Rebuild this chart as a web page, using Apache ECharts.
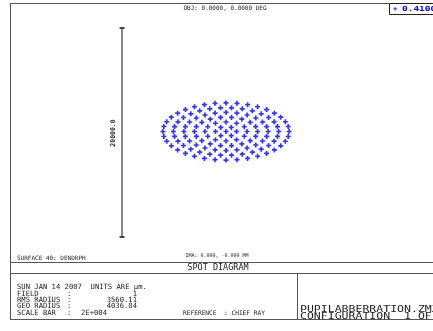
<!DOCTYPE html>
<html>
<head>
<meta charset="utf-8">
<script src="https://cdn.jsdelivr.net/npm/echarts@6/dist/echarts.min.js"></script>
<style>
  html, body { margin: 0; padding: 0; background: #fff; }
  #chart { width: 433px; height: 331px; }
</style>
</head>
<body>
<div id="chart"></div>
<script>
// spot diagram rays (µm from chief ray), one array per pupil ring
const RING_0 = [[0, 0]];
const RING_1 = [[673, 0], [337, 264], [-337, 264], [-673, 0], [-337, -264], [337, -264]];
const RING_2 = [
  [1347, 0], [1167, 305], [674, 528], [0, 610], [-674, 528], [-1167, 305],
  [-1347, 0], [-1167, -305], [-674, -528], [0, -610], [674, -528], [1167, -305]
];
const RING_3 = [
  [2020, 0], [1898, 313], [1547, 588], [1010, 792], [351, 901], [-351, 901],
  [-1010, 792], [-1547, 588], [-1898, 313], [-2020, 0], [-1898, -313], [-1547, -588],
  [-1010, -792], [-351, -901], [351, -901], [1010, -792], [1547, -588], [1898, -313]
];
const RING_4 = [
  [2693, 0], [2601, 316], [2332, 610], [1904, 863], [1347, 1057], [697, 1178],
  [0, 1220], [-697, 1178], [-1347, 1057], [-1904, 863], [-2332, 610], [-2601, 316],
  [-2693, 0], [-2601, -316], [-2332, -610], [-1904, -863], [-1347, -1057], [-697, -1178],
  [0, -1220], [697, -1178], [1347, -1057], [1904, -863], [2332, -610], [2601, -316]
];
const RING_5 = [
  [3367, 0], [3293, 317], [3076, 620], [2724, 896], [2253, 1133], [1684, 1321],
  [1040, 1450], [352, 1517], [-352, 1517], [-1040, 1450], [-1684, 1321], [-2253, 1133],
  [-2724, 896], [-3076, 620], [-3293, 317], [-3367, 0], [-3293, -317], [-3076, -620],
  [-2724, -896], [-2253, -1133], [-1684, -1321], [-1040, -1450], [-352, -1517], [352, -1517],
  [1040, -1450], [1684, -1321], [2253, -1133], [2724, -896], [3076, -620], [3293, -317]
];
const RING_6 = [
  [4040, 0], [3979, 318], [3796, 626], [3499, 915], [3095, 1176], [2597, 1402],
  [2020, 1585], [1382, 1720], [701, 1802], [0, 1830], [-701, 1802], [-1382, 1720],
  [-2020, 1585], [-2597, 1402], [-3095, 1176], [-3499, 915], [-3796, 626], [-3979, 318],
  [-4040, 0], [-3979, -318], [-3796, -626], [-3499, -915], [-3095, -1176], [-2597, -1402],
  [-2020, -1585], [-1382, -1720], [-701, -1802], [0, -1830], [701, -1802], [1382, -1720],
  [2020, -1585], [2597, -1402], [3095, -1176], [3499, -915], [3796, -626], [3979, -318]
];

// scale bar (µm)
const SCALE_BAR_X = -6656;
const SCALE_BAR_Y = [6624, -6752];
const SCALE_BAR_LABEL = '20000.0';

const WAVELENGTH = '0.4100';
const FIELD_TEXT = 'OBJ: 0.0000, 0.0000 DEG';
const IMAGE_TEXT = 'IMA: 0.000, -0.000 MM';
const SURFACE_TEXT = 'SURFACE 40: DENDRPH';
const TITLE = 'SPOT DIAGRAM';
const DATE_TEXT = 'SUN JAN 14 2007  UNITS ARE \u00b5m.';
const INFO_LABELS = ['FIELD', 'RMS RADIUS', 'GEO RADIUS'];
const INFO_VALUES = ['1', '3560.11', '4036.84'];
const SCALE_TEXT = '2E+004';
const REFERENCE_TEXT = 'REFERENCE  : CHIEF RAY';
const FILE_TEXT = 'PUPILABBERRATION.ZMX';
const CONFIG_TEXT = 'CONFIGURATION  1 OF 1';

const MONO = '"DejaVu Sans Mono", monospace';
const INK = '#222';
const FRAME = '#555';
const BLUE = '#0000ff';

const spot = [].concat(RING_0, RING_1, RING_2, RING_3, RING_4, RING_5, RING_6);

// zemax plot font is wide and short, so stretch the mono font with scaleX
function txt(x, y, text, size, extra) {
  const e = extra || {};
  return {
    type: 'text', x, y, silent: true,
    scaleX: e.sx || 1, rotation: e.rot || 0,
    style: {
      text, fill: e.fill || INK,
      font: (e.bold ? 'bold ' : '') + size + 'px ' + MONO,
      textAlign: e.align || 'left', textVerticalAlign: 'middle'
    }
  };
}
function hline(x1, x2, y) {
  return { type: 'line', silent: true, shape: { x1, y1: y, x2, y2: y }, style: { stroke: FRAME, lineWidth: 1 } };
}
function vline(x, y1, y2) {
  return { type: 'line', silent: true, shape: { x1: x, y1, x2: x, y2 }, style: { stroke: FRAME, lineWidth: 1 } };
}

const graphics = [
  // frame
  hline(10, 433, 3.5),
  vline(10.5, 3, 319),
  hline(10, 433, 262.5),
  hline(10, 433, 273.5),
  hline(10, 433, 319.5),
  vline(297.5, 273, 319),
  // wavelength box
  { type: 'rect', silent: true, shape: { x: 389.5, y: 3.5, width: 60, height: 11 }, style: { fill: '#fff', stroke: INK, lineWidth: 1 } },
  txt(393, 9.5, '+', 7, { fill: BLUE, bold: true }),
  txt(402, 9.5, WAVELENGTH, 7, { fill: BLUE, bold: true, sx: 1.35 }),
  // plot texts
  txt(225, 8, FIELD_TEXT, 6, { align: 'center' }),
  txt(17, 258, SURFACE_TEXT, 6),
  txt(217, 256, IMAGE_TEXT, 5, { align: 'center' }),
  txt(218, 268, TITLE, 8.5, { align: 'center' }),
  txt(113, 133, SCALE_BAR_LABEL, 6.5, { align: 'center', bold: true, rot: Math.PI / 2 }),
  // info panel
  txt(17, 287, DATE_TEXT, 7.2),
  txt(17, 313, 'SCALE BAR', 7.2),
  txt(67, 313, ':', 7.2),
  txt(81, 313, SCALE_TEXT, 7.2),
  txt(183, 313.5, REFERENCE_TEXT, 6.2),
  txt(300, 310, FILE_TEXT, 8, { sx: 1.44 }),
  txt(300, 316.5, CONFIG_TEXT, 8, { sx: 1.44 })
];
INFO_LABELS.forEach((label, i) => {
  const y = 293.8 + i * 6.4;
  graphics.push(txt(17, y, label, 7.2));
  graphics.push(txt(67, y, ':', 7.2));
  graphics.push(txt(137, y, INFO_VALUES[i], 7.2, { align: 'right' }));
});

const chart = echarts.init(document.getElementById('chart'), null, { renderer: 'canvas' });
chart.setOption({
  backgroundColor: '#fff',
  animation: false,
  grid: { left: 10, top: 3, width: 423, height: 259 },
  xAxis: { type: 'value', min: -13824, max: 13248, show: false },
  yAxis: { type: 'value', min: -8352, max: 8224, show: false },
  series: [
    {
      name: 'spot',
      type: 'scatter',
      data: spot,
      symbol: 'path://M1,0H2V1H3V2H2V3H1V2H0V1H1Z',
      symbolSize: 5,
      itemStyle: { color: BLUE },
      silent: true
    },
    {
      name: 'scale bar',
      type: 'line',
      data: SCALE_BAR_Y.map(y => [SCALE_BAR_X, y]),
      symbol: 'rect',
      symbolSize: [5, 1.5],
      showAllSymbol: true,
      lineStyle: { color: '#111', width: 1 },
      itemStyle: { color: '#111' },
      silent: true
    }
  ],
  graphic: graphics
});
</script>
</body>
</html>
